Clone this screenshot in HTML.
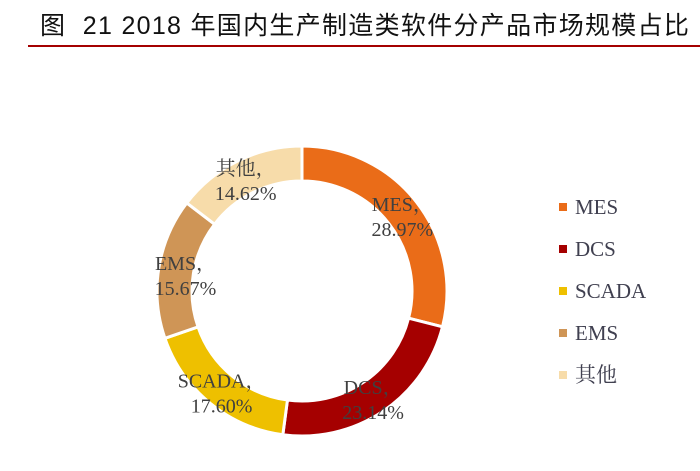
<!DOCTYPE html>
<html><head><meta charset="utf-8"><style>
body{margin:0;width:700px;height:471px;background:#fff;overflow:hidden;position:relative}
#title{position:absolute;left:40px;top:6px;font:25px "Liberation Sans","Noto Sans CJK SC",sans-serif;color:#111;white-space:nowrap;letter-spacing:1.3px}
#rule{position:absolute;left:28px;top:45px;width:672px;height:2px;background:#a40000}
</style></head><body>
<div id="title">图&nbsp; 21 2018 年国内生产制造类软件分产品市场规模占比</div>
<div id="rule"></div>
<svg id="chart" width="700" height="471" style="position:absolute;left:0;top:0"></svg>
<script>
const categories=["MES","DCS","SCADA","EMS","其他"];
const values=[28.97,23.14,17.60,15.67,14.62];
const labels=["28.97%","23.14%","17.60%","15.67%","14.62%"];
const colors=["#ea6c18","#a50000","#eec000","#cf9556","#f7dcaa"];
const svg=document.getElementById('chart');const NS="http://www.w3.org/2000/svg";
const cx=302,cy=291,R=145,r=110;
const total=values.reduce((a,b)=>a+b,0);
function pt(a,rad){return [cx+rad*Math.sin(a),cy-rad*Math.cos(a)];}
let acc=0;
values.forEach((v,i)=>{
 const a0=acc/total*2*Math.PI;acc+=v;const a1=acc/total*2*Math.PI;
 const lg=(a1-a0)>Math.PI?1:0;
 const p0=pt(a0,R),p1=pt(a1,R),q1=pt(a1,r),q0=pt(a0,r);
 const p=document.createElementNS(NS,'path');
 p.setAttribute('d',`M${p0}A${R},${R} 0 ${lg} 1 ${p1}L${q1}A${r},${r} 0 ${lg} 0 ${q0}Z`);
 p.setAttribute('fill',colors[i]);p.setAttribute('stroke','#fff');p.setAttribute('stroke-width','3');
 
 
 svg.appendChild(p);
 const am=(a0+a1)/2;const lp=pt(am,r+(i===3?-9:0)+17);
 const t=document.createElementNS(NS,'text');
 t.setAttribute('x',lp[0]);t.setAttribute('y',lp[1]-2);t.setAttribute('text-anchor','middle');
 t.setAttribute('font-family','"Liberation Serif","Noto Serif CJK SC",serif');t.setAttribute('font-size','20');t.setAttribute('fill','#404040');
 
 
 const s1=document.createElementNS(NS,'tspan');s1.setAttribute('x',lp[0]);s1.textContent=categories[i]+"，";
 const s2=document.createElementNS(NS,'tspan');s2.setAttribute('x',lp[0]);s2.setAttribute('dy','25');s2.textContent=labels[i];
 t.appendChild(s1);t.appendChild(s2);svg.appendChild(t);
 const ly=207+i*42;
 const sq=document.createElementNS(NS,'rect');
 sq.setAttribute('x',559);sq.setAttribute('y',ly-4);sq.setAttribute('width',8);sq.setAttribute('height',8);sq.setAttribute('fill',colors[i]);
 
 
 svg.appendChild(sq);
 const lt=document.createElementNS(NS,'text');
 lt.setAttribute('x',575);lt.setAttribute('y',ly+7);lt.setAttribute('font-family','"Liberation Serif","Noto Serif CJK SC",serif');lt.setAttribute('font-size','21');lt.setAttribute('fill','#404050');
 lt.textContent=categories[i];
 
 
 svg.appendChild(lt);
});
</script>
</body></html>
